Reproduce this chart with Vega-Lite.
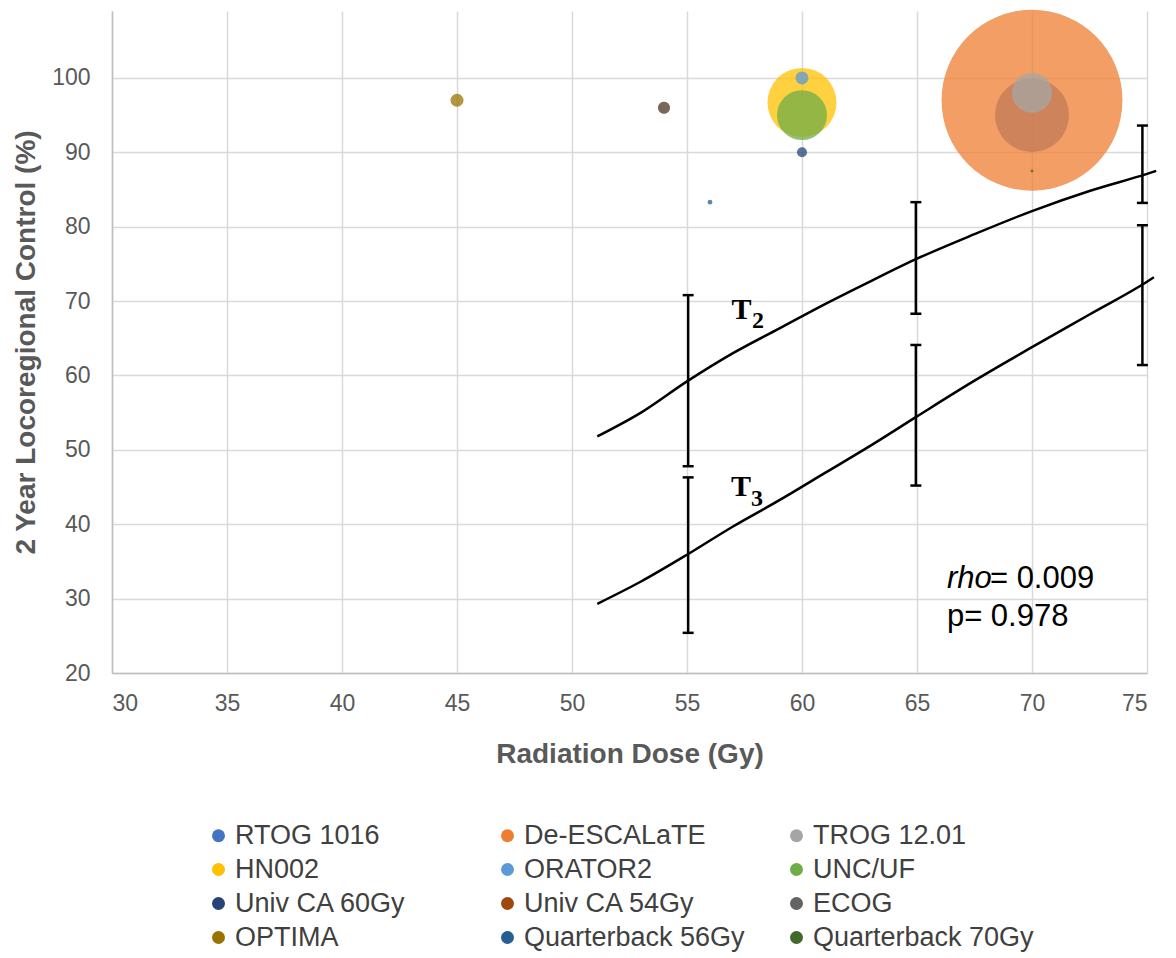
{
  "$schema": "https://vega.github.io/schema/vega-lite/v6.json",
  "width": 1035,
  "height": 662,
  "autosize": {"type": "none"},
  "padding": {"left": 112, "top": 11, "right": 29, "bottom": 285},
  "background": "white",
  "config": {
    "view": {"stroke": null},
    "font": "Liberation Sans",
    "axis": {
      "grid": true,
      "gridColor": "#d9d9d9",
      "gridWidth": 1.5,
      "domainColor": "#bfbfbf",
      "domainWidth": 1.5,
      "ticks": false,
      "labelFont": "Liberation Sans",
      "labelFontSize": 23,
      "labelColor": "#595959",
      "titleFont": "Liberation Sans",
      "titleFontSize": 28,
      "titleFontWeight": "bold",
      "titleColor": "#595959"
    }
  },
  "datasets": {
    "bubbles": [
      {"trial": "RTOG 1016", "dose": 70, "lrc": 95.0, "weight": 43.0},
      {"trial": "De-ESCALaTE", "dose": 70, "lrc": 97.0, "weight": 257.0},
      {"trial": "TROG 12.01", "dose": 70, "lrc": 98.0, "weight": 12.6},
      {"trial": "HN002", "dose": 60, "lrc": 96.7, "weight": 37.4},
      {"trial": "ORATOR2", "dose": 60, "lrc": 100.0, "weight": 1.33},
      {"trial": "UNC/UF", "dose": 60, "lrc": 95.0, "weight": 19.6},
      {"trial": "Univ CA 60Gy", "dose": 60, "lrc": 90.0, "weight": 0.79},
      {"trial": "Univ CA 54Gy", "dose": 54, "lrc": 96.0, "weight": 1.13},
      {"trial": "ECOG", "dose": 54, "lrc": 96.0, "weight": 1.13},
      {"trial": "OPTIMA", "dose": 45, "lrc": 97.0, "weight": 1.33},
      {"trial": "Quarterback 56Gy", "dose": 56, "lrc": 83.3, "weight": 0.17},
      {"trial": "Quarterback 70Gy", "dose": 70, "lrc": 87.5, "weight": 0.07}
    ],
    "curves": [
      {"curve": "T2", "dose": 51.1, "lrc": 51.8},
      {"curve": "T2", "dose": 53.0, "lrc": 55.0},
      {"curve": "T2", "dose": 55.0, "lrc": 59.2},
      {"curve": "T2", "dose": 57.0, "lrc": 63.0},
      {"curve": "T2", "dose": 59.0, "lrc": 66.3},
      {"curve": "T2", "dose": 61.0, "lrc": 69.6},
      {"curve": "T2", "dose": 63.0, "lrc": 72.7},
      {"curve": "T2", "dose": 65.0, "lrc": 75.7},
      {"curve": "T2", "dose": 67.5, "lrc": 79.0},
      {"curve": "T2", "dose": 70.0, "lrc": 82.1},
      {"curve": "T2", "dose": 72.5, "lrc": 84.8},
      {"curve": "T2", "dose": 75.0, "lrc": 87.1},
      {"curve": "T2", "dose": 75.4, "lrc": 87.5},
      {"curve": "T3", "dose": 51.1, "lrc": 29.3},
      {"curve": "T3", "dose": 53.0, "lrc": 32.3},
      {"curve": "T3", "dose": 55.0, "lrc": 35.9},
      {"curve": "T3", "dose": 57.0, "lrc": 39.7},
      {"curve": "T3", "dose": 59.0, "lrc": 43.2},
      {"curve": "T3", "dose": 61.0, "lrc": 46.9},
      {"curve": "T3", "dose": 63.0, "lrc": 50.6},
      {"curve": "T3", "dose": 65.0, "lrc": 54.5},
      {"curve": "T3", "dose": 67.5, "lrc": 59.3},
      {"curve": "T3", "dose": 70.0, "lrc": 63.8},
      {"curve": "T3", "dose": 72.5, "lrc": 68.2},
      {"curve": "T3", "dose": 75.0, "lrc": 72.6},
      {"curve": "T3", "dose": 75.3, "lrc": 73.2}
    ],
    "bars": [
      {"curve": "T2", "dose": 55.05, "lo": 47.8, "hi": 70.8},
      {"curve": "T3", "dose": 55.05, "lo": 25.4, "hi": 46.3},
      {"curve": "T2", "dose": 64.95, "lo": 68.3, "hi": 83.3},
      {"curve": "T3", "dose": 64.95, "lo": 45.2, "hi": 64.1},
      {"curve": "T2", "dose": 74.8, "lo": 83.2, "hi": 93.6},
      {"curve": "T3", "dose": 74.8, "lo": 61.4, "hi": 80.2}
    ],
    "curveLabels": [
      {"text": "T", "dose": 57.37, "lrc": 68.8, "kind": "main"},
      {"text": "2", "dose": 58.09, "lrc": 67.3, "kind": "sub"},
      {"text": "T", "dose": 57.35, "lrc": 45.0, "kind": "main"},
      {"text": "3", "dose": 58.04, "lrc": 43.4, "kind": "sub"}
    ],
    "stats": [
      {"text": "rho", "dose": 66.3, "lrc": 31.4, "style": "italic"},
      {"text": "= 0.009", "dose": 68.17, "lrc": 31.4, "style": "normal"},
      {"text": "p= 0.978", "dose": 66.3, "lrc": 26.3, "style": "normal"}
    ]
  },
  "layer": [
    {
      "data": {"name": "bubbles"},
      "mark": {"type": "point", "filled": true, "shape": "circle", "opacity": 0.75},
      "encoding": {
        "x": {
          "field": "dose", "type": "quantitative",
          "scale": {"domain": [30, 75], "nice": false, "zero": false},
          "axis": {
            "values": [30, 35, 40, 45, 50, 55, 60, 65, 70, 75],
            "labelPadding": 19,
            "title": "Radiation Dose (Gy)",
            "titlePadding": 25
          }
        },
        "y": {
          "field": "lrc", "type": "quantitative",
          "scale": {"domain": [20, 109], "nice": false, "zero": false},
          "axis": {
            "values": [20, 30, 40, 50, 60, 70, 80, 90, 100],
            "labelPadding": 22,
            "title": "2 Year Locoregional Control (%)",
            "titlePadding": 11
          }
        },
        "color": {
          "field": "trial", "type": "nominal",
          "scale": {
            "domain": ["RTOG 1016", "De-ESCALaTE", "TROG 12.01", "HN002", "ORATOR2", "UNC/UF", "Univ CA 60Gy", "Univ CA 54Gy", "ECOG", "OPTIMA", "Quarterback 56Gy", "Quarterback 70Gy"],
            "range": ["#4472C4", "#ED7D31", "#A5A5A5", "#FFC000", "#5B9BD5", "#70AD47", "#264478", "#9E480E", "#636363", "#997300", "#255E91", "#43682B"]
          },
          "legend": {
            "title": null,
            "orient": "none",
            "legendX": 93,
            "legendY": 811,
            "columns": 3,
            "direction": "horizontal",
            "gridAlign": "all",
            "columnPadding": 38,
            "rowPadding": 6,
            "padding": 0,
            "symbolType": "circle",
            "symbolSize": 169,
            "symbolOpacity": 1,
            "symbolStrokeWidth": 0,
            "labelFont": "Liberation Sans",
            "labelFontSize": 27,
            "labelColor": "#404040",
            "labelOffset": 3,
            "labelLimit": 400
          }
        },
        "size": {
          "field": "weight", "type": "quantitative",
          "scale": {"domain": [0, 100], "range": [0, 12732], "type": "linear"},
          "legend": null
        }
      }
    },
    {
      "data": {"name": "curves"},
      "mark": {"type": "line", "color": "black", "strokeWidth": 2.5, "interpolate": "monotone"},
      "encoding": {
        "x": {"field": "dose", "type": "quantitative"},
        "y": {"field": "lrc", "type": "quantitative"},
        "detail": {"field": "curve", "type": "nominal"}
      }
    },
    {
      "data": {"name": "bars"},
      "mark": {"type": "rule", "color": "black", "strokeWidth": 2.5},
      "encoding": {
        "x": {"field": "dose", "type": "quantitative"},
        "y": {"field": "lo", "type": "quantitative"},
        "y2": {"field": "hi"}
      }
    },
    {
      "data": {"name": "bars"},
      "mark": {"type": "tick", "orient": "horizontal", "color": "black", "size": 11, "thickness": 2.5, "opacity": 1},
      "encoding": {
        "x": {"field": "dose", "type": "quantitative"},
        "y": {"field": "hi", "type": "quantitative"}
      }
    },
    {
      "data": {"name": "bars"},
      "mark": {"type": "tick", "orient": "horizontal", "color": "black", "size": 11, "thickness": 2.5, "opacity": 1},
      "encoding": {
        "x": {"field": "dose", "type": "quantitative"},
        "y": {"field": "lo", "type": "quantitative"}
      }
    },
    {
      "data": {"name": "curveLabels"},
      "transform": [{"filter": "datum.kind == 'main'"}],
      "mark": {"type": "text", "font": "Liberation Serif", "fontWeight": "bold", "fontSize": 30, "color": "black", "baseline": "middle", "align": "center"},
      "encoding": {
        "x": {"field": "dose", "type": "quantitative"},
        "y": {"field": "lrc", "type": "quantitative"},
        "text": {"field": "text"}
      }
    },
    {
      "data": {"name": "curveLabels"},
      "transform": [{"filter": "datum.kind == 'sub'"}],
      "mark": {"type": "text", "font": "Liberation Serif", "fontWeight": "bold", "fontSize": 24, "color": "black", "baseline": "middle", "align": "center"},
      "encoding": {
        "x": {"field": "dose", "type": "quantitative"},
        "y": {"field": "lrc", "type": "quantitative"},
        "text": {"field": "text"}
      }
    },
    {
      "data": {"name": "stats"},
      "transform": [{"filter": "datum.style == 'italic'"}],
      "mark": {"type": "text", "font": "Liberation Sans", "fontSize": 31, "fontStyle": "italic", "color": "black", "baseline": "alphabetic", "align": "left"},
      "encoding": {
        "x": {"field": "dose", "type": "quantitative"},
        "y": {"field": "lrc", "type": "quantitative"},
        "text": {"field": "text"}
      }
    },
    {
      "data": {"name": "stats"},
      "transform": [{"filter": "datum.style == 'normal'"}],
      "mark": {"type": "text", "font": "Liberation Sans", "fontSize": 31, "color": "black", "baseline": "alphabetic", "align": "left"},
      "encoding": {
        "x": {"field": "dose", "type": "quantitative"},
        "y": {"field": "lrc", "type": "quantitative"},
        "text": {"field": "text"}
      }
    }
  ]
}
